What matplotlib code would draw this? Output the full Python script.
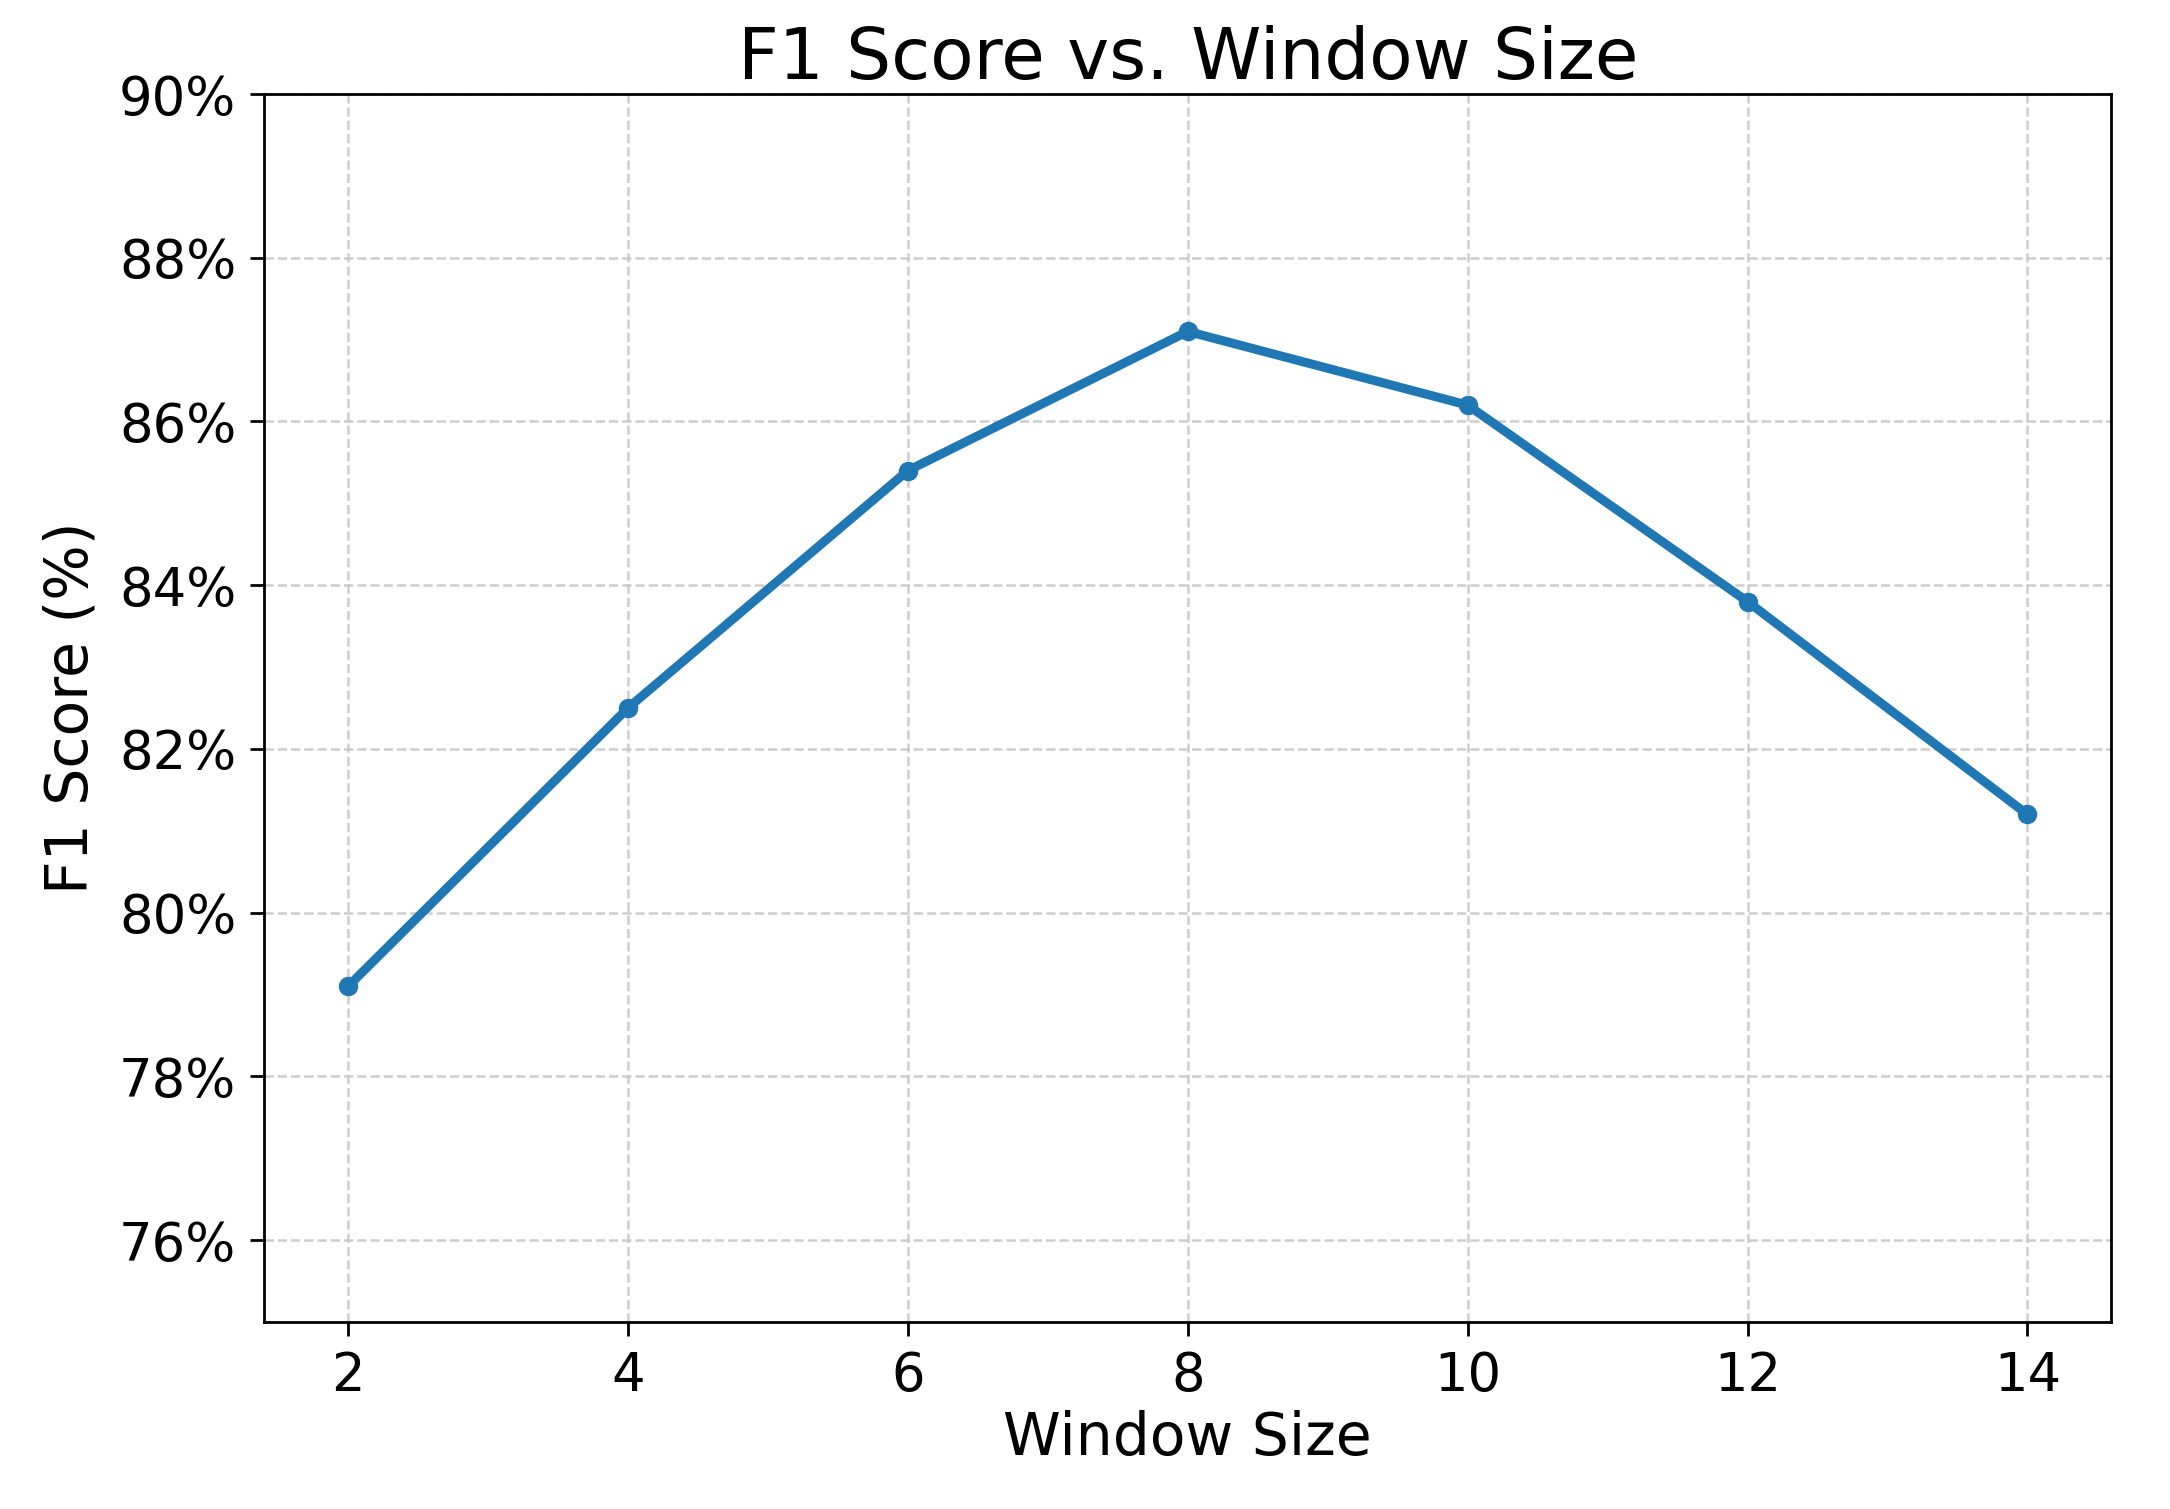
import matplotlib
matplotlib.use("Agg")
import matplotlib.pyplot as plt
from matplotlib.ticker import FuncFormatter

# Data
window_sizes = [2, 4, 6, 8, 10, 12, 14]
f1_scores = [79.1, 82.5, 85.4, 87.1, 86.2, 83.8, 81.2]
y_ticks = [76, 78, 80, 82, 84, 86, 88, 90]

plt.rcParams.update({"font.family": "DejaVu Sans"})

fig = plt.figure(figsize=(21.7, 15.09), dpi=100)
ax = fig.add_axes([0.1217, 0.1239, 0.8513, 0.8138])

ax.plot(window_sizes, f1_scores, color="#1f77b4", linewidth=6.5,
        marker="o", markersize=13)

ax.set_xticks(window_sizes)
ax.set_yticks(y_ticks)
ax.set_ylim(75, 90)
ax.yaxis.set_major_formatter(FuncFormatter(lambda v, _: f"{v:.0f}%"))

ax.grid(True, linestyle="--", color="#c8c8c8", linewidth=1.8, alpha=0.9)
ax.set_axisbelow(True)
for spine in ax.spines.values():
    spine.set_linewidth(2)
ax.tick_params(axis="both", labelsize=38, width=2, length=10, pad=10)

ax.set_title("F1 Score vs. Window Size", fontsize=51, pad=10)
ax.set_xlabel("Window Size", fontsize=42, labelpad=6)
ax.set_ylabel("F1 Score (%)", fontsize=42, labelpad=14)

fig.savefig("out.png", dpi=100)
